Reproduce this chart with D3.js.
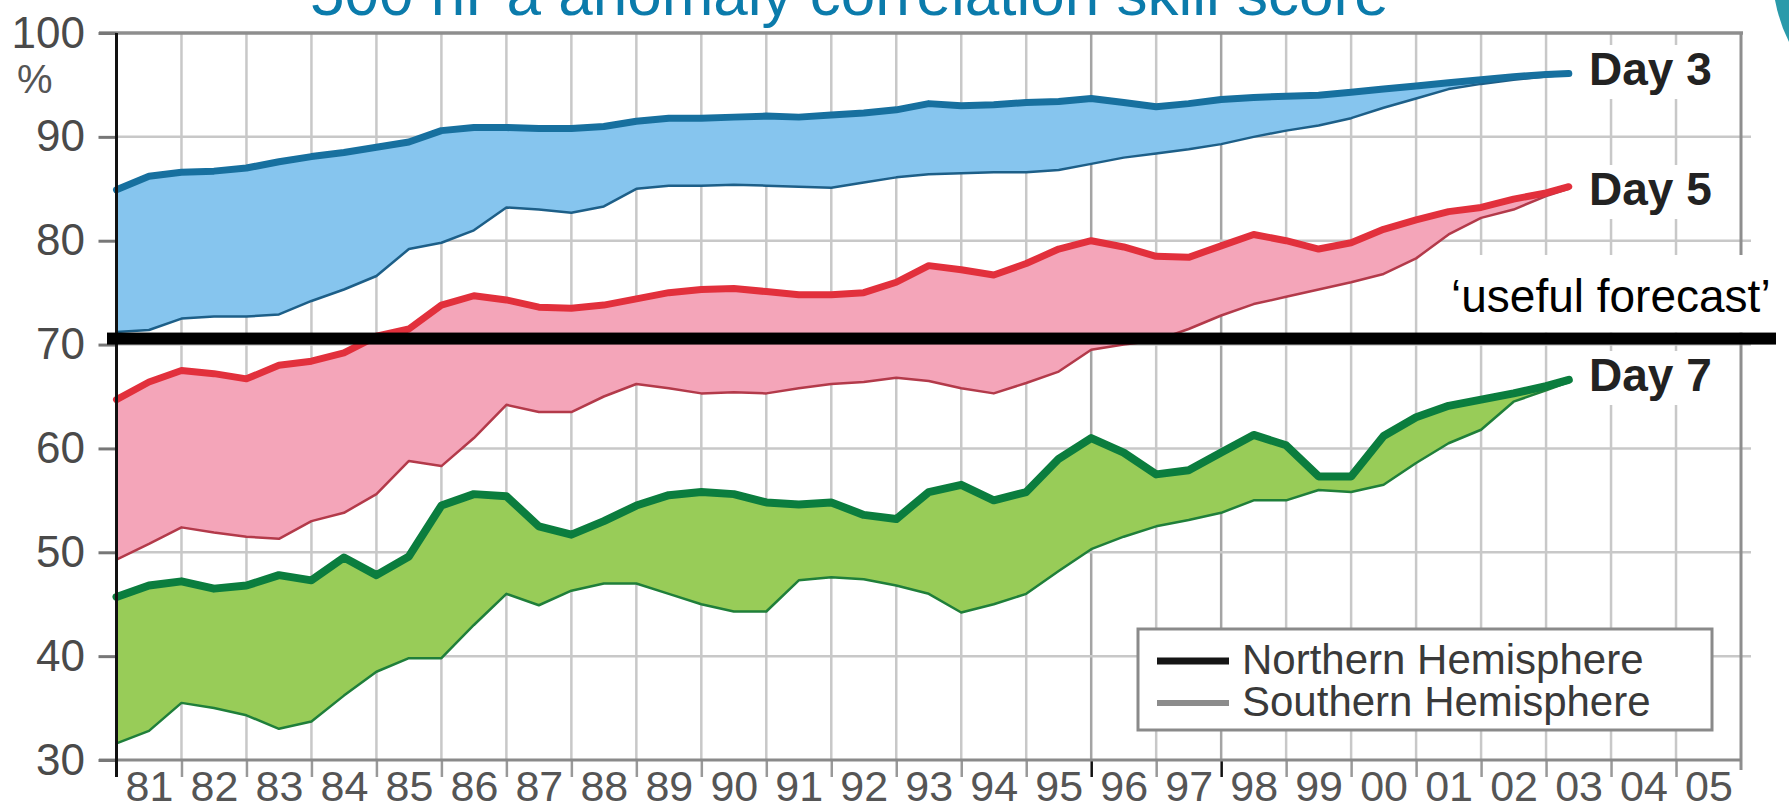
<!DOCTYPE html>
<html><head><meta charset="utf-8">
<script src="https://cdn.jsdelivr.net/npm/d3@7"></script>
<style>html,body{margin:0;padding:0;background:#fff;overflow:hidden}</style>
</head><body><svg id="c" width="1789" height="810"></svg>
<script>
// ---- data ----
const years = [1981,1981.5,1982,1982.5,1983,1983.5,1984,1984.5,1985,1985.5,1986,1986.5,1987,1987.5,1988,1988.5,1989,1989.5,1990,1990.5,1991,1991.5,1992,1992.5,1993,1993.5,1994,1994.5,1995,1995.5,1996,1996.5,1997,1997.5,1998,1998.5,1999,1999.5,2000,2000.5,2001,2001.5,2002,2002.5,2003,2003.35];
const day3NH = [84.9,86.2,86.6,86.7,87.0,87.6,88.1,88.5,89.0,89.5,90.6,90.9,90.9,90.8,90.8,91.0,91.5,91.8,91.8,91.9,92.0,91.9,92.1,92.3,92.6,93.2,93.0,93.1,93.3,93.4,93.7,93.3,92.9,93.2,93.6,93.8,93.9,94.0,94.3,94.6,94.9,95.2,95.5,95.8,96.0,96.1];
const day3SH = [71.2,71.4,72.5,72.7,72.7,72.9,74.2,75.3,76.6,79.2,79.8,81.0,83.2,83.0,82.7,83.3,85.0,85.3,85.3,85.4,85.3,85.2,85.1,85.6,86.1,86.4,86.5,86.6,86.6,86.8,87.4,88.0,88.4,88.8,89.3,90.0,90.6,91.1,91.8,92.8,93.7,94.6,95.1,95.5,95.8,96.0];
const day5NH = [64.7,66.4,67.5,67.2,66.7,68.0,68.4,69.2,70.8,71.5,73.8,74.7,74.3,73.6,73.5,73.8,74.4,75.0,75.3,75.4,75.1,74.8,74.8,75.0,76.0,77.6,77.2,76.7,77.8,79.2,80.0,79.4,78.5,78.4,79.5,80.6,80.0,79.2,79.8,81.1,82.0,82.8,83.2,84.0,84.6,85.2];
const day5SH = [49.3,50.8,52.4,51.9,51.5,51.3,53.0,53.8,55.6,58.8,58.3,61.0,64.2,63.5,63.5,65.0,66.2,65.8,65.3,65.4,65.3,65.8,66.2,66.4,66.8,66.5,65.8,65.3,66.3,67.4,69.5,70.0,70.4,71.5,72.8,73.9,74.6,75.3,76.0,76.8,78.3,80.6,82.2,83.0,84.3,85.0];
const day7NH = [45.7,46.8,47.2,46.5,46.8,47.8,47.3,49.5,47.8,49.6,54.5,55.6,55.4,52.5,51.7,53.0,54.5,55.5,55.8,55.6,54.8,54.6,54.8,53.6,53.2,55.8,56.5,55.0,55.8,59.0,61.0,59.6,57.5,57.9,59.6,61.3,60.3,57.3,57.3,61.2,63.0,64.1,64.7,65.3,66.0,66.6];
const day7SH = [31.6,32.8,35.5,35.0,34.3,33.0,33.7,36.2,38.5,39.8,39.8,43.0,46.0,44.9,46.3,47.0,47.0,46.0,45.0,44.3,44.3,47.3,47.6,47.4,46.8,46.0,44.2,45.0,46.0,48.2,50.3,51.5,52.5,53.1,53.8,55.0,55.0,56.0,55.8,56.5,58.6,60.5,61.8,64.5,65.6,66.4];
const yTicks = [30,40,50,60,70,80,90,100];
const yearBounds = [1982,1983,1984,1985,1986,1987,1988,1989,1990,1991,1992,1993,1994,1995,1996,1997,1998,1999,2000,2001,2002,2003,2004,2005];
const labelYears = [1981,1982,1983,1984,1985,1986,1987,1988,1989,1990,1991,1992,1993,1994,1995,1996,1997,1998,1999,2000,2001,2002,2003,2004,2005];
const xLabels = ["81","82","83","84","85","86","87","88","89","90","91","92","93","94","95","96","97","98","99","00","01","02","03","04","05"];
const markedYears = [1996,1998];
const usefulThreshold = 70;
const dayLabels = ["Day 3","Day 5","Day 7"];
const legendLabels = ["Northern Hemisphere","Southern Hemisphere"];
const titleText = "500 hPa anomaly correlation skill score";

// ---- layout ----
const FONT = "'Liberation Sans', Arial, sans-serif";
const svg = d3.select("#c");
const x = d3.scaleLinear().domain([1981, 2006]).range([116.5, 1741]);
const y = d3.scaleLinear().domain([30, 100]).range([760, 33]);

svg.append("rect").attr("width",1789).attr("height",810).attr("fill","#fff");

// title (clipped at top)
svg.append("text").attr("x",310).attr("y",15).attr("font-family",FONT).attr("font-size",62)
  .attr("fill","#0b7bab").text(titleText);
svg.append("path").attr("d","M1775,0 L1789,0 L1789,42 Q1779,22 1775,0 Z").attr("fill","#2a9aaa");

// gridlines
const grid = svg.append("g");
grid.selectAll("line.v").data(yearBounds).join("line")
  .attr("x1",d=>x(d)).attr("x2",d=>x(d)).attr("y1",y(100)).attr("y2",y(30))
  .attr("stroke",d=>markedYears.includes(d)?"#a4a4a4":"#c8c8c8").attr("stroke-width",2.5);
grid.selectAll("line.h").data(yTicks.filter(d=>d>30 && d<100)).join("line")
  .attr("x1",x(1981)).attr("x2",x(2006)+10).attr("y1",d=>y(d)).attr("y2",d=>y(d))
  .attr("stroke","#c8c8c8").attr("stroke-width",2.5);

// frame
svg.append("line").attr("x1",99).attr("x2",x(2006)+2).attr("y1",y(100)).attr("y2",y(100)).attr("stroke","#8e8e8e").attr("stroke-width",3.5);
svg.append("line").attr("x1",x(2006)).attr("x2",x(2006)).attr("y1",y(100)).attr("y2",770).attr("stroke","#8e8e8e").attr("stroke-width",3);

// bottom axis with ticks at year boundaries
const xAxis = d3.axisBottom(x).tickValues(yearBounds).tickSize(17).tickFormat("");
const gx = svg.append("g").attr("transform",`translate(0,${y(30)})`).call(xAxis);
gx.select(".domain").remove();
gx.selectAll(".tick line").attr("stroke",d=>markedYears.includes(d)?"#111":"#999").attr("stroke-width",2.5);
svg.append("line").attr("x1",99).attr("x2",x(2006)).attr("y1",y(30)).attr("y2",y(30)).attr("stroke","#8a8a8a").attr("stroke-width",3);
const xLab = d3.axisBottom(x).tickValues(labelYears.map(d=>d+0.5)).tickSize(0).tickPadding(10)
  .tickFormat((d,i)=>xLabels[i]);
const gxl = svg.append("g").attr("transform",`translate(0,${y(30)})`).call(xLab);
gxl.select(".domain").remove();
gxl.selectAll("text").attr("font-family",FONT).attr("font-size",43).attr("fill","#555");

// series
const series = [
  {nh:day3NH, sh:day3SH, fill:"#86c5ee", nhc:"#17709f", shc:"#1d5f88", nhw:7},
  {nh:day5NH, sh:day5SH, fill:"#f4a5b9", nhc:"#e2303c", shc:"#b33a4a", nhw:7},
  {nh:day7NH, sh:day7SH, fill:"#98cc58", nhc:"#0b7d3e", shc:"#1f7f3a", nhw:8}
];
const area = (s) => d3.area().x((d,i)=>x(years[i])).y0((d,i)=>y(s.sh[i])).y1((d,i)=>y(s.nh[i]))(years);
const line = d3.line().x((d,i)=>x(years[i])).y(d=>y(d));
series.forEach(s=>{
  svg.append("path").attr("d",area(s)).attr("fill",s.fill);
});
series.forEach(s=>{
  svg.append("path").attr("d",line(s.sh)).attr("fill","none").attr("stroke",s.shc)
    .attr("stroke-width",2.5).attr("stroke-linejoin","round");
});
series.forEach(s=>{
  svg.append("path").attr("d",line(s.nh)).attr("fill","none").attr("stroke",s.nhc)
    .attr("stroke-width",s.nhw).attr("stroke-linejoin","round").attr("stroke-linecap","round");
});

// left axis
const yAxis = d3.axisLeft(y).tickValues(yTicks).tickSize(18).tickPadding(13.5).tickFormat(d=>d);
const gy = svg.append("g").attr("transform",`translate(${x(1981)},0)`).call(yAxis);
gy.select(".domain").remove();
gy.selectAll(".tick line").attr("stroke","#777").attr("stroke-width",3);
gy.selectAll("text").attr("font-family",FONT).attr("font-size",44).attr("fill","#4a4a4a");
svg.append("line").attr("x1",x(1981)).attr("x2",x(1981)).attr("y1",y(100)).attr("y2",777).attr("stroke","#111").attr("stroke-width",3);
svg.append("text").attr("x",17).attr("y",93).attr("font-family",FONT).attr("font-size",40).attr("fill","#555").text("%");

// day labels
const dayBase = [85,205,391];
dayLabels.forEach((t,i)=>{
  svg.append("rect").attr("x",1582).attr("y",dayBase[i]-40).attr("width",140).attr("height",54).attr("fill","#fff");
  svg.append("text").attr("x",1589).attr("y",dayBase[i]).attr("font-family",FONT).attr("font-size",46)
    .attr("font-weight","bold").attr("fill","#222").text(t);
});

// useful forecast threshold
svg.append("rect").attr("x",1424).attr("y",255).attr("width",365).attr("height",y(usefulThreshold)-12-255).attr("fill","#fff");
svg.append("rect").attr("x",107).attr("y",y(usefulThreshold)-12).attr("width",1776-107).attr("height",12).attr("fill","#000");
svg.append("text").attr("x",1451).attr("y",312).attr("font-family",FONT).attr("font-size",46).attr("fill","#000")
  .text("\u2018useful forecast\u2019");

// legend
const lg = svg.append("g");
lg.append("rect").attr("x",1138).attr("y",629).attr("width",574).attr("height",101)
  .attr("fill","#fff").attr("stroke","#8a8a8a").attr("stroke-width",3);
const lgY = [661,703];
const lgC = ["#151515","#8c8c8c"];
const lgW = [7,6];
legendLabels.forEach((t,i)=>{
  lg.append("line").attr("x1",1157).attr("x2",1229).attr("y1",lgY[i]).attr("y2",lgY[i]).attr("stroke",lgC[i]).attr("stroke-width",lgW[i]);
  lg.append("text").attr("x",1242).attr("y",lgY[i]+13).attr("font-family",FONT).attr("font-size",42).attr("fill","#3a3a3a").text(t);
});
</script></body></html>
